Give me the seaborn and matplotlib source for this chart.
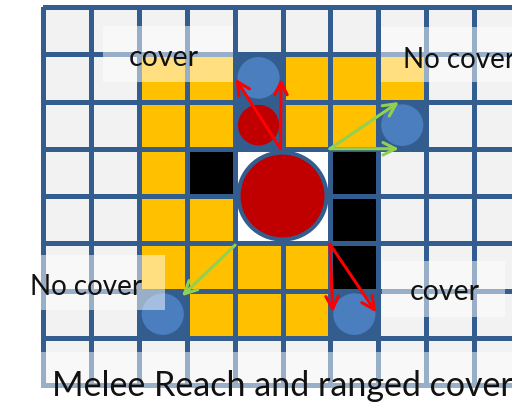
import matplotlib
matplotlib.use('Agg')
import matplotlib.pyplot as plt
import numpy as np
import pandas as pd
import seaborn as sns
from matplotlib.colors import ListedColormap
from matplotlib.patches import Circle, Rectangle

sns.set_style('white')
plt.rcParams['font.family'] = ['Lato', 'DejaVu Sans']

# cell kinds: 0 empty, 1 reach (yellow), 2 wall (black), 3 occupied, 4 open
grid_rows = [
    [0, 0, 0, 0, 0, 0, 0, 0, 0, 0],
    [0, 0, 1, 1, 3, 1, 1, 1, 0, 0],
    [0, 0, 1, 1, 3, 1, 1, 3, 0, 0],
    [0, 0, 1, 2, 4, 4, 2, 0, 0, 0],
    [0, 0, 1, 1, 4, 4, 2, 0, 0, 0],
    [0, 0, 1, 1, 1, 1, 2, 0, 0, 0],
    [0, 0, 3, 1, 1, 1, 3, 0, 0, 0],
    [0, 0, 0, 0, 0, 0, 0, 0, 0, 0],
]
cell_colors = ['#f2f2f2', '#ffc000', '#000000', '#345d8f', '#ffffff']
line_color = '#345d8f'

# tokens (grid units, column / row)
enemy_cols = [4.5, 7.5, 2.5, 6.5]
enemy_rows = [1.5, 2.5, 6.5, 6.5]
small_red = (4.5, 2.5)
big_red = (5.0, 4.0)

# arrows: start, end, colour
arrow_start = [(4.96, 3.0), (4.96, 3.0), (5.99, 3.0), (5.99, 3.0),
               (4.01, 5.04), (5.99, 5.02), (5.99, 5.02)]
arrow_end = [(4.02, 1.52), (4.97, 1.52), (7.43, 2.01), (7.43, 3.0),
             (2.90, 6.12), (6.05, 6.46), (6.95, 6.46)]
arrow_color = ['#ff0000', '#ff0000', '#92d050', '#92d050',
               '#92d050', '#ff0000', '#ff0000']

labels = ['cover', 'No cover', 'No cover', 'cover',
          'Melee Reach and ranged cover']
label_x = [2.53, 7.52, -0.27, 8.39, 0.19]
label_y = [1.23, 1.27, 6.07, 6.18, 8.21]
label_ha = ['center', 'left', 'left', 'center', 'left']
label_size = [20.5, 20, 20, 20.5, 24.5]
# label boxes: x0, y0, x1, y1
boxes = [(1.25, 0.40, 3.97, 1.59), (7.06, 0.42, 10.2, 1.59),
         (-0.73, 5.25, 2.55, 6.41), (7.08, 5.38, 9.65, 6.56),
         (-0.27, 7.30, 10.2, 8.6)]

fig = plt.figure(figsize=(5.12, 4.06), dpi=100)
ax = fig.add_axes([43 / 512, 20 / 406, 479 / 512, 378 / 406])

df = pd.DataFrame(grid_rows)
sns.heatmap(df, ax=ax, cmap=ListedColormap(cell_colors), vmin=-0.5, vmax=4.5,
            cbar=False, linewidths=3.6, linecolor=line_color,
            xticklabels=False, yticklabels=False)
ax.collections[0].set_clip_on(False)

for cx, cy in zip(enemy_cols, enemy_rows):
    ax.add_patch(Circle((cx, cy), 0.44, facecolor='#4a7ebf',
                        edgecolor='none', zorder=3))
ax.add_patch(Circle(small_red, 0.43, facecolor='#c00000',
                    edgecolor='none', zorder=3))
ax.add_patch(Circle(big_red, 0.92, facecolor='#c00000',
                    edgecolor=line_color, lw=3, zorder=3))

for s, e, c in zip(arrow_start, arrow_end, arrow_color):
    ax.annotate('', xy=e, xytext=s, annotation_clip=False, zorder=4,
                arrowprops=dict(arrowstyle='->,head_length=0.9,head_width=0.45',
                                color=c, lw=2.2, shrinkA=0, shrinkB=0))

for (x0, y0, x1, y1) in boxes:
    ax.add_patch(Rectangle((x0, y0), x1 - x0, y1 - y0, facecolor='white',
                           edgecolor='none', alpha=0.5, zorder=5,
                           clip_on=False))

for t, x, y, ha, fs in zip(labels, label_x, label_y, label_ha, label_size):
    ax.text(x, y, t, ha=ha, va='baseline', fontsize=fs, color='#111111',
            zorder=6, clip_on=False)

for sp in ax.spines.values():
    sp.set_visible(False)

fig.savefig('out.png', dpi=100)
